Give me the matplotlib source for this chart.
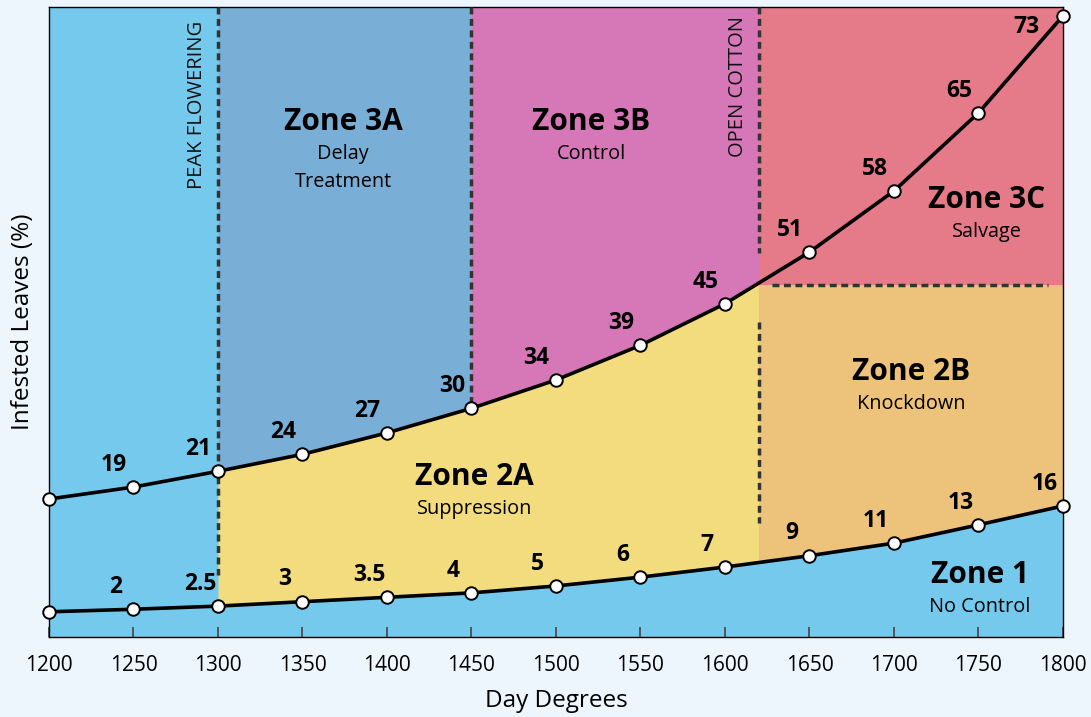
import numpy as np
import matplotlib
matplotlib.use("Agg")
import matplotlib.pyplot as plt

plt.rcParams['font.family'] = ['Open Sans', 'DejaVu Sans']

# data (y = drawing height on a 0-100 scale)
day_degrees = [1200, 1250, 1300, 1350, 1400, 1450, 1500, 1550, 1600, 1650, 1700, 1750, 1800]
upper_y = [21.9, 23.8, 26.3, 29.0, 32.4, 36.3, 40.8, 46.3, 52.9, 61.1, 70.8, 83.2, 98.6]
lower_y = [4.0, 4.4, 4.9, 5.6, 6.3, 7.0, 8.1, 9.5, 11.1, 12.9, 14.9, 17.8, 20.8]
upper_labels = ["", "19", "21", "24", "27", "30", "34", "39", "45", "51", "58", "65", "73"]
lower_labels = ["", "2", "2.5", "3", "3.5", "4", "5", "6", "7", "9", "11", "13", "16"]

peak_flowering = 1300
zone_ab_split = 1450
open_cotton = 1620
salvage_level = 55.9

zone_titles = ["Zone 3A", "Zone 3B", "Zone 3C", "Zone 2B", "Zone 2A", "Zone 1"]
zone_subs = ["Delay\nTreatment", "Control", "Salvage", "Knockdown", "Suppression", "No Control"]
zone_x = [1374, 1521, 1755, 1710, 1452, 1751]
zone_y = [81.7, 81.7, 69.4, 42.1, 25.4, 9.8]

c_blue = '#75c9ec'
c_mid = '#79afd7'
c_pink = '#d678b8'
c_red = '#e57a88'
c_orange = '#edc27a'
c_yellow = '#f3dc7e'
c_bg = '#eef6fd'
c_dash = '#333333'

fig = plt.figure(figsize=(10.91, 7.17), dpi=100, facecolor=c_bg)
ax = fig.add_axes([0.0449, 0.1116, 0.9294, 0.8786])
ax.set_facecolor(c_blue)
ax.set_xlim(1200, 1800)
ax.set_ylim(0, 100)

xs = np.array(day_degrees, dtype=float)
up = np.array(upper_y)
lo = np.array(lower_y)


def seg(x0, x1):
    inner = xs[(xs > x0) & (xs < x1)]
    return np.concatenate([[x0], inner, [x1]])


# coloured zones
x3a = seg(peak_flowering, zone_ab_split)
ax.fill_between(x3a, np.interp(x3a, xs, up), 100, color=c_mid, lw=0)
x3b = seg(zone_ab_split, open_cotton)
ax.fill_between(x3b, np.interp(x3b, xs, up), 100, color=c_pink, lw=0)
x3c = seg(open_cotton, 1800)
ax.fill_between(x3c, salvage_level, 100, color=c_red, lw=0)
ax.fill_between(x3c, np.interp(x3c, xs, lo), salvage_level, color=c_orange, lw=0)
x2a = seg(peak_flowering, open_cotton)
ax.fill_between(x2a, np.interp(x2a, xs, lo), np.interp(x2a, xs, up), color=c_yellow, lw=0)

# dashed markers
dash = dict(color=c_dash, lw=2.5, ls=(0, (2.0, 1.3)), zorder=3)
ax.plot([peak_flowering, peak_flowering], [100, 9.8], **dash)
ax.plot([zone_ab_split, zone_ab_split], [100, np.interp(zone_ab_split, xs, up)], **dash)
ax.plot([open_cotton, open_cotton], [100, 61.0], **dash)
ax.plot([open_cotton, open_cotton], [50.0, 18.1], **dash)
ax.plot([1628, 1791], [salvage_level, salvage_level], **dash)

ax.text(1287.4, 97.8, "PEAK FLOWERING", rotation=90, ha='center', va='top',
        fontsize=14.5, color='#111111')
ax.text(1607.8, 98.6, "OPEN COTTON", rotation=90, ha='center', va='top',
        fontsize=14.5, color='#111111')

# curves
for yy in (up, lo):
    ax.plot(xs, yy, color='black', lw=2.6, zorder=5, clip_on=False,
            marker='o', ms=9, mfc='white', mec='black', mew=1.4)

for x, y, lab in zip(xs, up, upper_labels):
    if not lab:
        continue
    off = (-26, -8) if lab == "73" else (-14, 16)
    ax.annotate(lab, (x, y), xytext=off, textcoords='offset points',
                ha='center', va='center', fontsize=16.5, fontweight='bold', zorder=6)
for x, y, lab in zip(xs, lo, lower_labels):
    if not lab:
        continue
    ax.annotate(lab, (x, y), xytext=(-13, 16), textcoords='offset points',
                ha='center', va='center', fontsize=16.5, fontweight='bold', zorder=6)

for t, s, x, y in zip(zone_titles, zone_subs, zone_x, zone_y):
    ax.text(x, y, t, ha='center', va='center', fontsize=21.5, fontweight='bold')
    for i, line in enumerate(s.split("\n")):
        ax.text(x, y - 5.1 - i * 4.45, line, ha='center', va='center', fontsize=14.3)

ax.set_xticks(day_degrees)
ax.set_yticks([])
ax.tick_params(axis='x', direction='in', length=7, width=1.2, color='#444444',
               labelsize=15, pad=13)
for sp in ax.spines.values():
    sp.set_linewidth(1.0)
    sp.set_color('black')

ax.set_xlabel("Day Degrees", fontsize=17.5, labelpad=9)
ax.set_ylabel("Infested Leaves (%)", fontsize=17.5, labelpad=10)

plt.savefig("out.png", dpi=100, facecolor=c_bg)
